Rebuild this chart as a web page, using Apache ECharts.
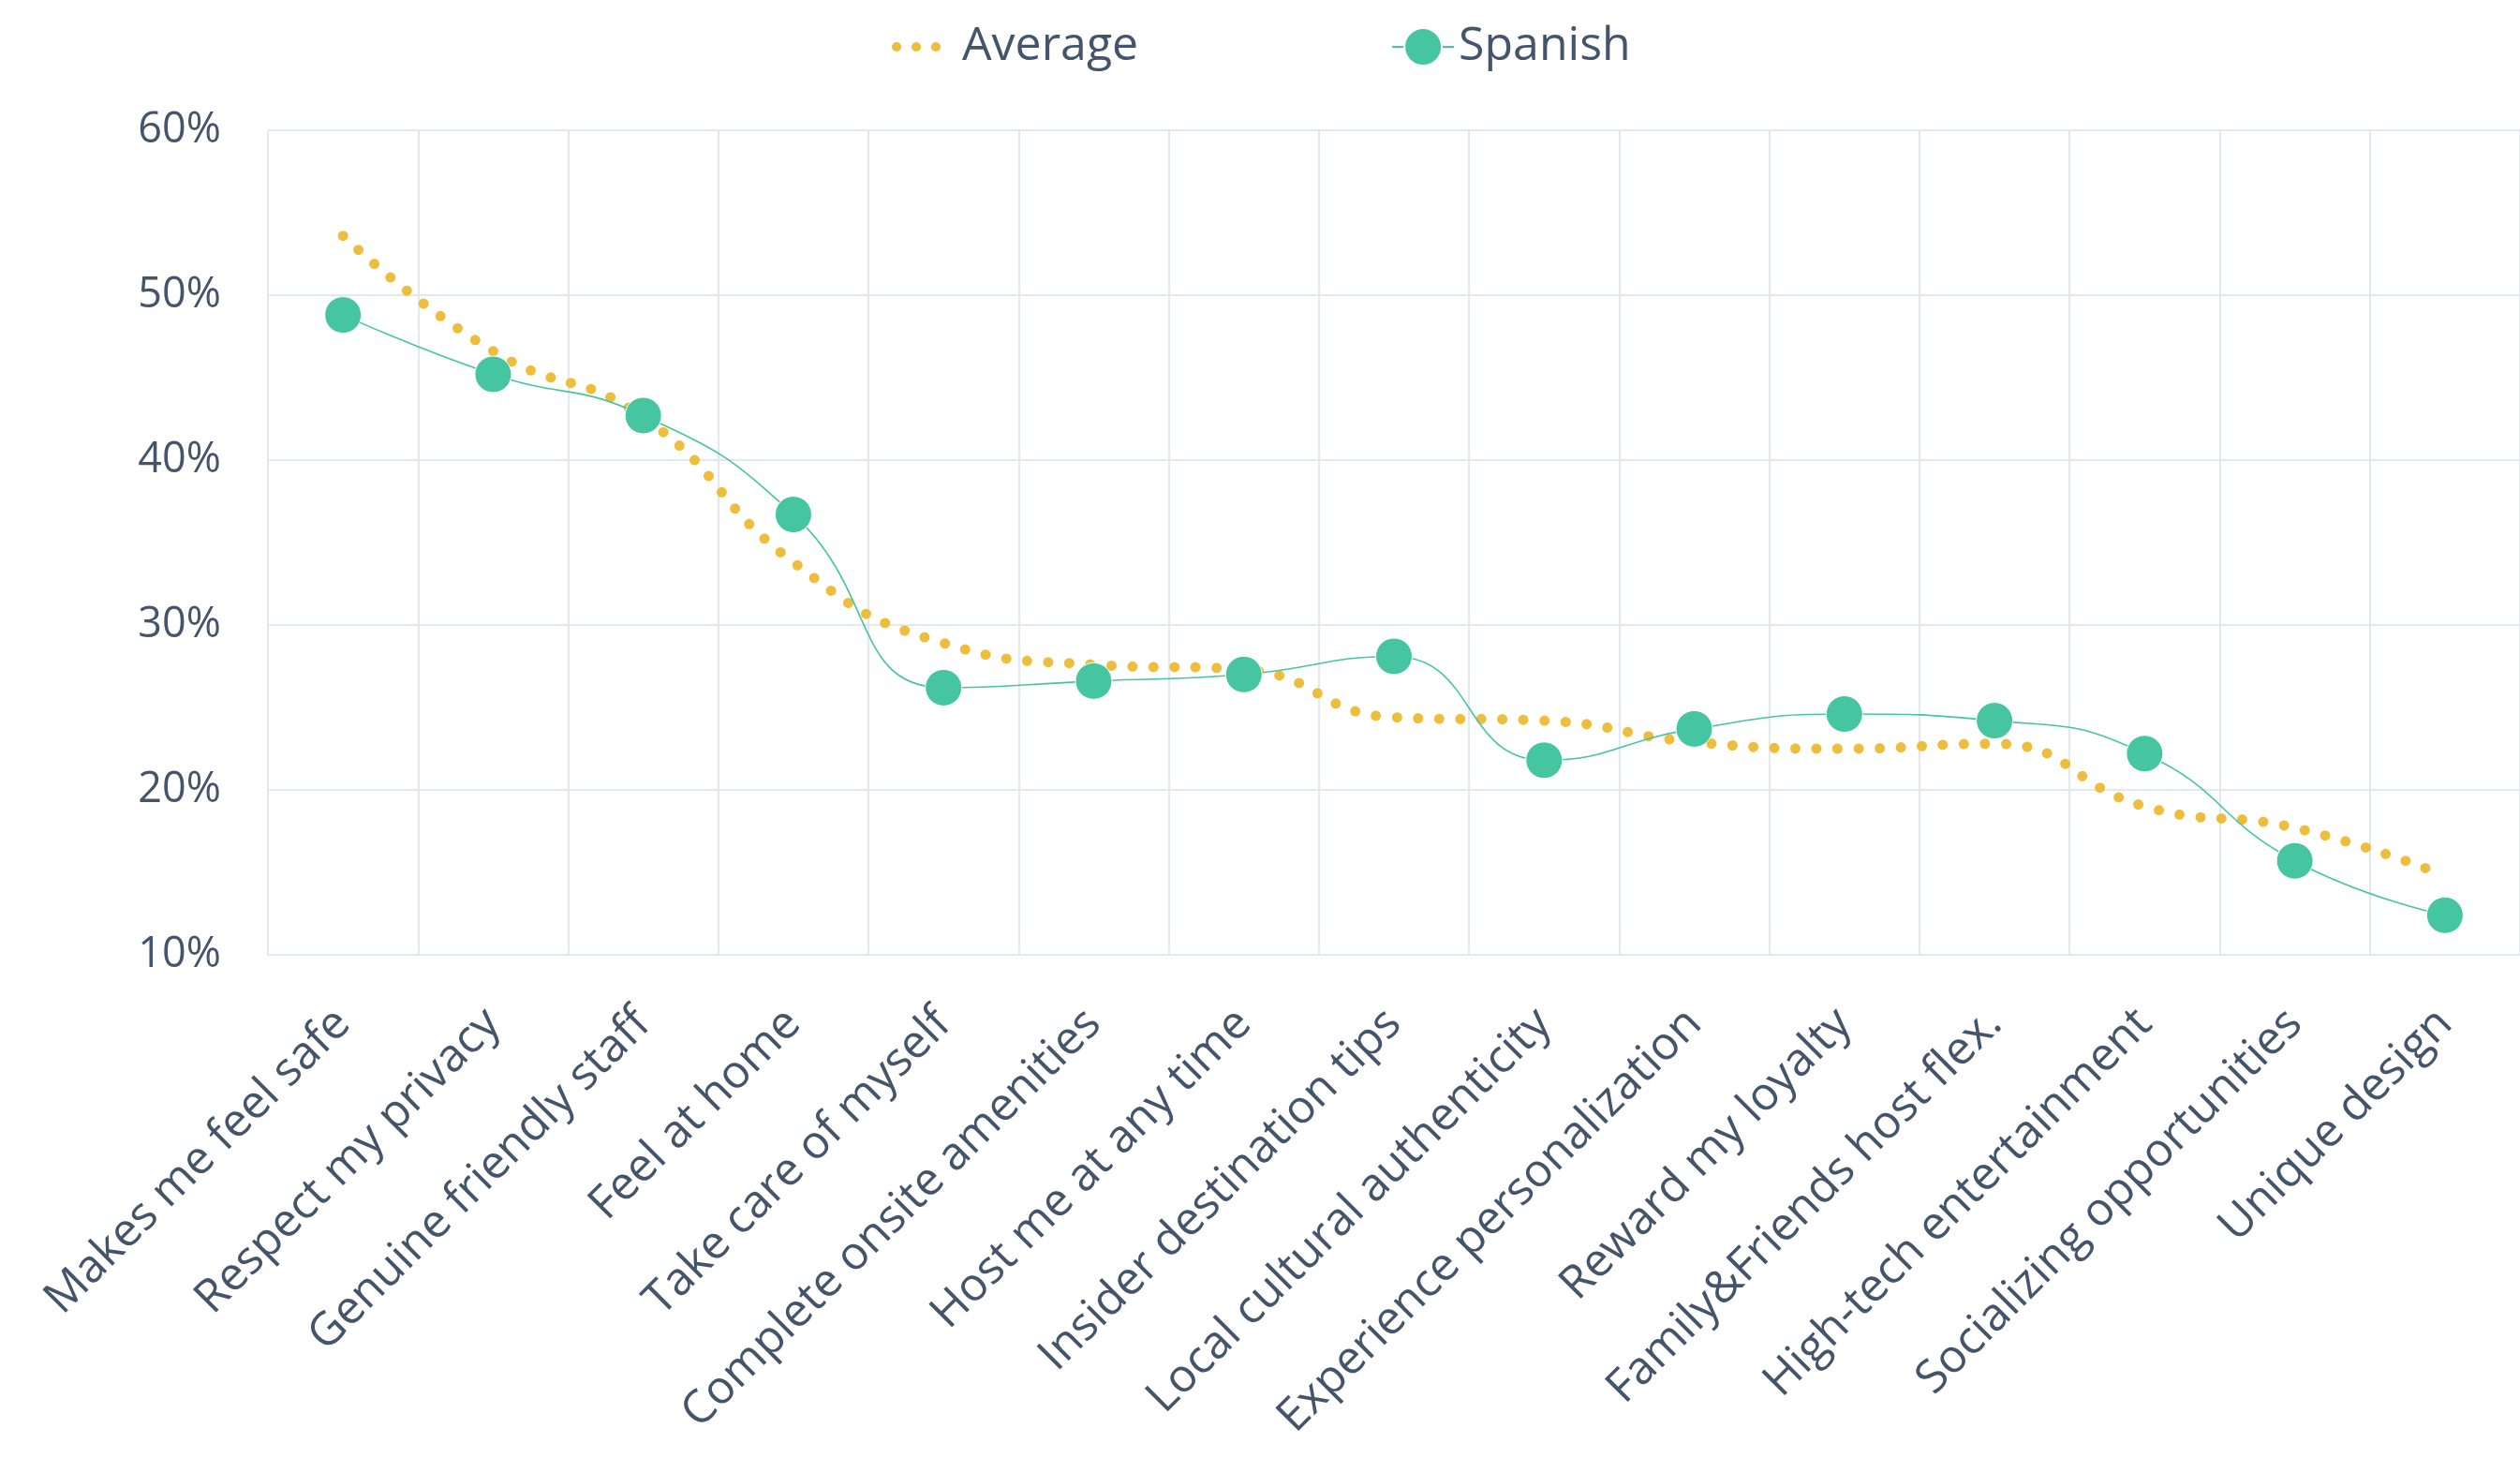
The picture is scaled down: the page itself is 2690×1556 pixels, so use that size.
<!DOCTYPE html>
<html>
<head>
<meta charset="utf-8">
<script src="https://cdn.jsdelivr.net/npm/echarts@6/dist/echarts.min.js"></script>
<style>
  html, body { margin: 0; padding: 0; background: #fff; }
  #chart { width: 2690px; height: 1556px; }
</style>
</head>
<body>
<div id="chart"></div>
<script>
const categories = [
  'Makes me feel safe', 'Respect my privacy', 'Genuine friendly staff', 'Feel at home',
  'Take care of myself', 'Complete onsite amenities', 'Host me at any time',
  'Insider destination tips', 'Local cultural authenticity', 'Experience personalization',
  'Reward my loyalty', 'Family&Friends host flex.', 'High-tech entertainment',
  'Socializing opportunities', 'Unique design'
];
const averageValues = [53.6, 46.6, 42.6, 33.8, 28.9, 27.6, 27.3, 24.4, 24.2, 22.9, 22.5, 22.8, 19.0, 17.7, 14.8];
const spanishValues = [48.8, 45.2, 42.7, 36.7, 26.2, 26.6, 27.0, 28.1, 21.8, 23.7, 24.6, 24.2, 22.2, 15.7, 12.4];
const yTicks = { min: 10, max: 60, step: 10 };

const textColor = '#44546a';
const gridColor = '#e3e7ee';
const font = '"Open Sans", "Noto Sans", sans-serif';

// three round dots for the dotted series legend (trailing M widens the box a bit)
const dotsIcon = 'path://M0,5.5a5.5,5.5 0 1,0 11,0a5.5,5.5 0 1,0 -11,0Z' +
  'M22.5,5.5a5.5,5.5 0 1,0 11,0a5.5,5.5 0 1,0 -11,0Z' +
  'M45,5.5a5.5,5.5 0 1,0 11,0a5.5,5.5 0 1,0 -11,0Z' +
  'M71,5.5Z';

const chart = echarts.init(document.getElementById('chart'));
chart.setOption({
  animation: false,
  textStyle: { fontFamily: font },
  legend: {
    top: 20,
    left: 947,
    itemGap: 270,
    itemWidth: 66,
    itemHeight: 50,
    textStyle: { color: textColor, fontSize: 50, fontFamily: font },
    data: [
      {
        name: 'Average',
        icon: dotsIcon,
        itemStyle: { color: '#edbd3b' },
        textStyle: { padding: [0, 0, 0, 4] }
      },
      { name: 'Spanish' }
    ]
  },
  grid: {
    left: 286,
    top: 139,
    width: 2410,
    bottom: 537,
    containLabel: false
  },
  xAxis: {
    type: 'category',
    boundaryGap: true,
    data: categories,
    axisLine: { lineStyle: { color: gridColor, width: 2 } },
    axisTick: { show: false },
    splitLine: { show: true, lineStyle: { color: gridColor, width: 2 } },
    axisLabel: {
      rotate: 45,
      interval: 0,
      margin: 66,
      color: textColor,
      fontSize: 49,
      fontFamily: font
    }
  },
  yAxis: {
    type: 'value',
    min: yTicks.min,
    max: yTicks.max,
    interval: yTicks.step,
    axisLine: { show: false },
    axisTick: { show: false },
    splitLine: { lineStyle: { color: gridColor, width: 2 } },
    axisLabel: {
      formatter: '{value}%',
      margin: 50,
      color: textColor,
      fontSize: 45,
      fontFamily: font
    }
  },
  series: [
    {
      name: 'Average',
      type: 'line',
      smooth: true,
      symbol: 'none',
      data: averageValues,
      itemStyle: { color: '#edbd3b' },
      lineStyle: {
        color: '#edbd3b',
        width: 11,
        type: [0, 22.5],
        cap: 'round'
      },
      z: 2
    },
    {
      name: 'Spanish',
      type: 'line',
      smooth: true,
      symbol: 'circle',
      symbolSize: 39,
      data: spanishValues,
      itemStyle: { color: '#45c6a0', borderColor: '#ffffff', borderWidth: 1 },
      lineStyle: { color: '#45c6a0', width: 1.6 },
      z: 3
    }
  ]
});
</script>
</body>
</html>
